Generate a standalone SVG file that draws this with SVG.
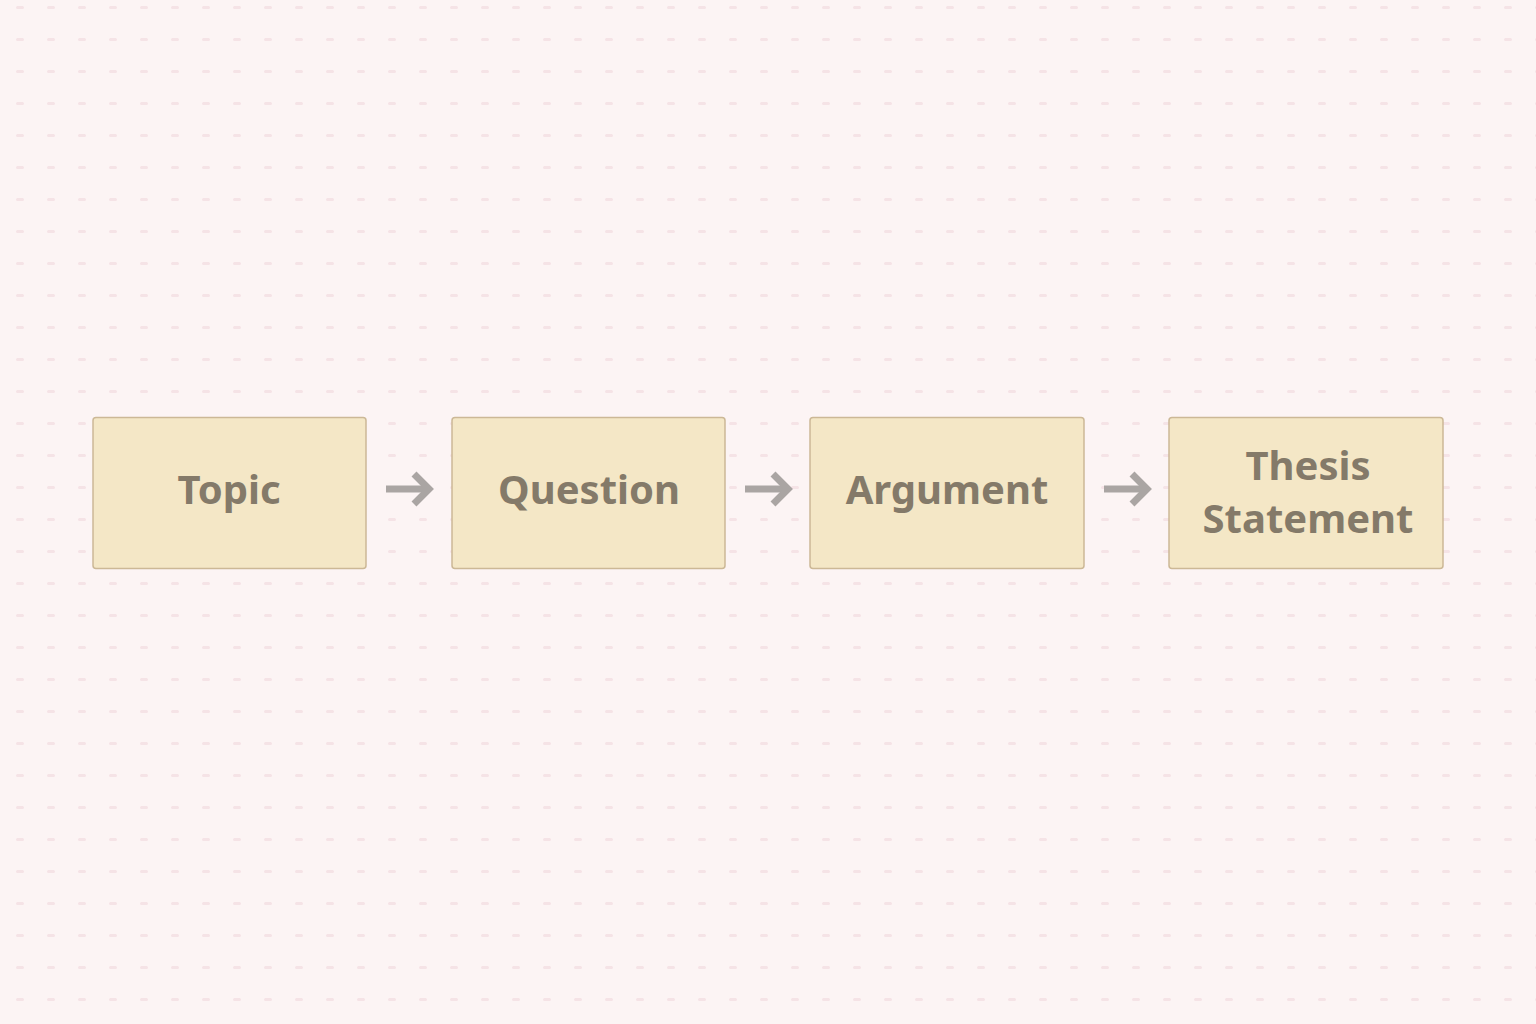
<svg xmlns="http://www.w3.org/2000/svg" width="1536" height="1024" viewBox="0 0 1536 1024">
<defs>
<pattern id="dots" x="6" y="24" width="31" height="32" patternUnits="userSpaceOnUse">
<rect x="10" y="14" width="8" height="3" rx="1.5" fill="#f5e3e6"/>
</pattern>
<style>
.box{fill:#f4e7c6;stroke:#ccb896;stroke-width:1.5}
.lbl{font-family:"Noto Sans","Open Sans","Liberation Sans",sans-serif;font-weight:700;font-size:40px;fill:#847a69;text-anchor:middle}
.conn{fill:none;stroke:#aaa5a3;stroke-width:7;stroke-linecap:butt;stroke-linejoin:miter}
</style>
</defs>
<rect width="1536" height="1024" fill="#fcf4f4"/>
<rect width="1536" height="1024" fill="url(#dots)"/>
<g id="connectors">
<g><line class="conn" x1="386" y1="489" x2="428" y2="489"/><polyline class="conn" points="414,474 429,489 414,504"/></g>
<g><line class="conn" x1="745" y1="489" x2="787" y2="489"/><polyline class="conn" points="773,474 788,489 773,504"/></g>
<g><line class="conn" x1="1104" y1="489" x2="1146" y2="489"/><polyline class="conn" points="1132,474 1147,489 1132,504"/></g>
</g>
<g id="topic"><rect class="box" x="93" y="417.5" width="273" height="151" rx="3"/><text class="lbl" x="229" y="504">Topic</text></g>
<g id="question"><rect class="box" x="452" y="417.5" width="273" height="151" rx="3"/><text class="lbl" x="589" y="504">Question</text></g>
<g id="argument"><rect class="box" x="810" y="417.5" width="274" height="151" rx="3"/><text class="lbl" x="947" y="504">Argument</text></g>
<g id="thesis"><rect class="box" x="1169" y="417.5" width="274" height="151" rx="3"/><text class="lbl" x="1308" y="480">Thesis</text><text class="lbl" x="1308" y="533">Statement</text></g>
</svg>
